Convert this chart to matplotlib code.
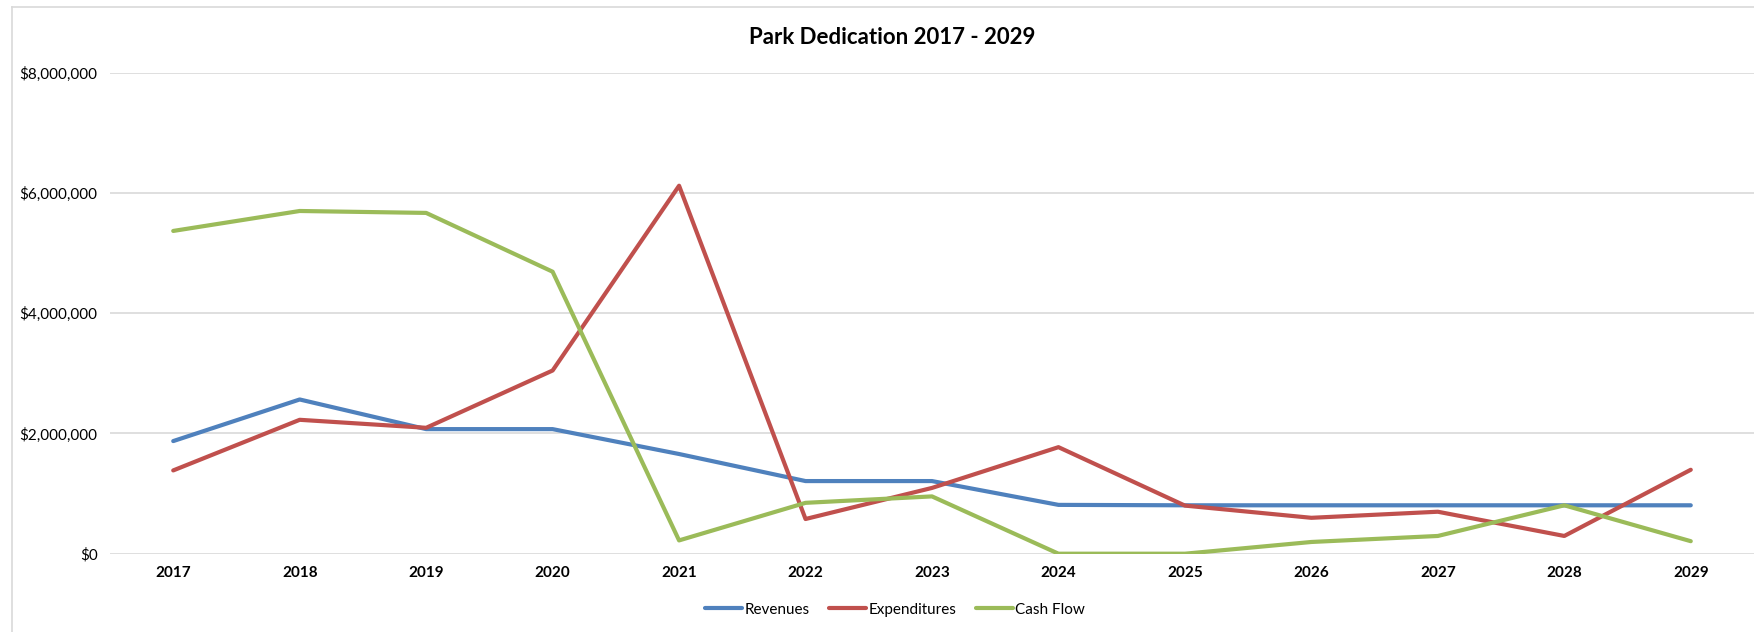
import numpy as np
import matplotlib
matplotlib.use('Agg')
import matplotlib.pyplot as plt
from matplotlib.lines import Line2D
from matplotlib.ticker import FuncFormatter

plt.rcParams['font.family'] = ['Lato', 'DejaVu Sans']

years = ["2017", "2018", "2019", "2020", "2021", "2022", "2023",
         "2024", "2025", "2026", "2027", "2028", "2029"]
revenues = [1873000, 2565000, 2072000, 2072000, 1658000, 1208000, 1208000,
            812000, 805000, 805000, 805000, 805000, 805000]
expenditures = [1385000, 2227000, 2094000, 3047000, 6120000, 577000, 1094000,
                1772000, 800000, 597000, 698000, 295000, 1396000]
cash_flow = [5368000, 5700000, 5668000, 4690000, 221000, 846000, 953000,
             0, 0, 195000, 295000, 805000, 208000]

W, H = 1754, 632
fig = plt.figure(figsize=(W / 100, H / 100), dpi=100)

# chart area border (cropped on the right / bottom)
fig.add_artist(Line2D([12 / W, 12 / W], [0, 1 - 7 / H], color="#D9D9D9", lw=1.2))
fig.add_artist(Line2D([12 / W, 1], [1 - 7 / H, 1 - 7 / H], color="#D9D9D9", lw=1.2))

ax = fig.add_axes([110 / W, 78.3 / H, (W - 110) / W, (559.3 - 78.3) / H])
x = np.arange(len(years))

ax.plot(x, revenues, color="#4F81BD", lw=3, label="Revenues", solid_capstyle="round")
ax.plot(x, expenditures, color="#C0504D", lw=3, label="Expenditures", solid_capstyle="round")
ax.plot(x, cash_flow, color="#9BBB59", lw=3, label="Cash Flow", solid_capstyle="round")

ax.set_xlim(-0.5, len(years) - 0.5)
ax.set_ylim(0, 8000000)
ax.set_yticks(np.arange(0, 8000001, 2000000))
ax.yaxis.set_major_formatter(FuncFormatter(lambda v, p: f"${v:,.0f}"))
ax.set_xticks(x)
ax.set_xticklabels(years, fontweight="bold")
ax.tick_params(axis="both", length=0, labelsize=11, colors="#000000")
ax.tick_params(axis="x", pad=9)
ax.tick_params(axis="y", pad=9)
ax.grid(axis="y", color="#D9D9D9", lw=1.2)
ax.set_axisbelow(True)
for s in ax.spines.values():
    s.set_visible(False)

fig.text(892 / W, 1 - 37 / H, "Park Dedication 2017 - 2029",
         ha="center", va="center", fontsize=16, fontweight="bold")

fig.legend(loc="center", bbox_to_anchor=(895 / W, 1 - 609.6 / H), ncol=3,
           frameon=False, fontsize=11, handlelength=2.4, columnspacing=1.3,
           handletextpad=0.15)

fig.savefig("out.png", dpi=100)
